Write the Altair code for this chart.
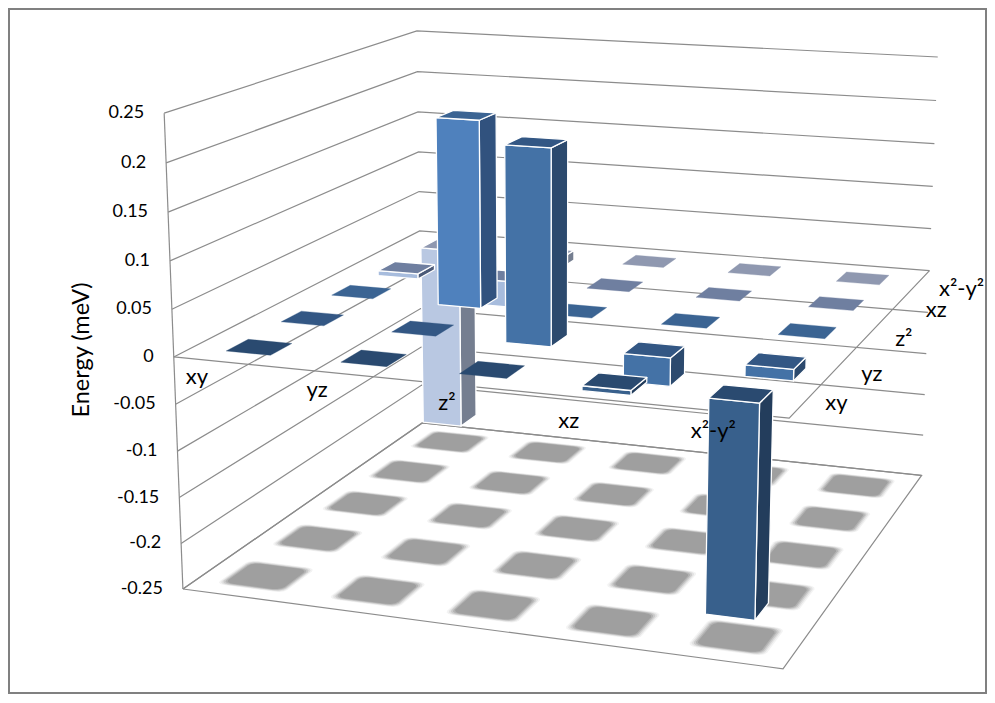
import altair as alt
import numpy as np

# ---- chart values -------------------------------------------------------
categories = ["xy", "yz", "z²", "xz", "x²-y²"]
z_ticks = [0.25, 0.2, 0.15, 0.1, 0.05, 0, -0.05, -0.1, -0.15, -0.2, -0.25]
z_labels = ["0.25", "0.2", "0.15", "0.1", "0.05", "0", "-0.05", "-0.1", "-0.15", "-0.2", "-0.25"]
row_xy = [0, 0, 0, -0.005, -0.22]
row_yz = [0, 0, 0.208, -0.03, -0.012]
row_z2 = [0, 0.208, 0, 0, 0]
row_xz = [-0.006, -0.03, 0, 0, 0]
row_x2y2 = [-0.22, -0.012, 0, 0, 0]
rows = [row_xy, row_yz, row_z2, row_xz, row_x2y2]

# face colours per depth row: front, side, top
front_colors = ["#38608c", "#4472a6", "#4f81bd", "#a7bcdd", "#b9c8e2"]
side_colors = ["#233d5c", "#2c4a6e", "#31527e", "#4b5a78", "#757e90"]
top_colors = ["#2a4a70", "#335784", "#3b6493", "#6f7fa0", "#8f98b0"]

# ---- projection of the 3D box on to the page ------------------------------
box_anchors = [
    ((0, 0, 0.25), (164, 113)), ((0, 0, 0), (174, 357)), ((0, 0, -0.25), (183, 589)),
    ((0, 5, 0.25), (417, 31)), ((0, 5, -0.25), (422, 423)),
    ((5, 5, 0.25), (938, 57)), ((5, 5, 0), (929, 271)), ((5, 5, -0.25), (922, 475)),
    ((5, 0, 0), (789, 418)), ((5, 0, -0.25), (783, 669)),
]
PAGE_MARGIN = 8
W, H = 979, 686


def fit_camera(anchors):
    eqs = []
    for (a, b, c), (x, y) in anchors:
        c = c * 4
        eqs.append([a, b, c, 1, 0, 0, 0, 0, -x * a, -x * b, -x * c, -x])
        eqs.append([0, 0, 0, 0, a, b, c, 1, -y * a, -y * b, -y * c, -y])
    return np.linalg.svd(np.array(eqs, float))[2][-1].reshape(3, 4)


CAM = fit_camera(box_anchors)


def proj(u, v, z):
    p = CAM @ np.array([u, v, z * 4, 1.0])
    return [float(p[0] / p[2] - PAGE_MARGIN), float(p[1] / p[2] - PAGE_MARGIN)]


def feature(points, kind="Polygon", **props):
    if kind == "Polygon":
        coords = [points + [points[0]]]
    else:
        coords = points
    return {"type": "Feature", "geometry": {"type": kind, "coordinates": coords}, "properties": props}


# ---- gridlines -------------------------------------------------------------
lines = []
for z in z_ticks:
    lines.append(feature([proj(0, 0, z), proj(0, 5, z), proj(5, 5, z)], "LineString"))
lines.append(feature([proj(0, 0, 0.25), proj(0, 0, -0.25)], "LineString"))
lines.append(feature([proj(0, 0, -0.25), proj(5, 0, -0.25), proj(5, 5, -0.25), proj(0, 5, -0.25), proj(0, 0, -0.25)], "LineString"))
lines.append(feature([proj(0, 0, 0), proj(5, 0, 0), proj(5, 5, 0)], "LineString"))

# ---- soft floor shadows ----------------------------------------------------
shadow_steps = [(0.305, "#f3f3f3"), (0.292, "#e2e2e2"), (0.279, "#cbcbcb"), (0.266, "#b3b3b3"), (0.253, "#9f9f9f")]


def rounded_cell(cu, cv, half, r):
    pts = []
    corners = [(half - r, half - r, 0), (-(half - r), half - r, 90), (-(half - r), -(half - r), 180), (half - r, -(half - r), 270)]
    for du, dv, start in corners:
        for a in (0, 30, 60, 90):
            t = np.radians(start + a)
            pts.append(proj(cu + du + r * np.cos(t), cv + dv + r * np.sin(t), -0.25))
    return pts


shadows = []
for half, col in shadow_steps:
    for v in range(5):
        for u in range(5):
            shadows.append(feature(rounded_cell(u + 0.5, v + 0.5, half, 0.075), fill=col))

# ---- bars, painted back to front -------------------------------------------
BAR_HALF = 0.195
faces = []
for v in range(4, -1, -1):
    for u in range(5):
        val = rows[v][u]
        u0, u1 = u + 0.5 - BAR_HALF, u + 0.5 + BAR_HALF
        v0, v1 = v + 0.5 - BAR_HALF, v + 0.5 + BAR_HALF
        hi, lo = max(val, 0), min(val, 0)
        edge = "#ffffff" if val != 0 else top_colors[v]
        width = 1.3 if val != 0 else 0.3
        if val != 0:
            faces.append(feature([proj(u1, v0, hi), proj(u1, v1, hi), proj(u1, v1, lo), proj(u1, v0, lo)],
                                 fill=side_colors[v], edge=edge, width=width))
            faces.append(feature([proj(u0, v0, hi), proj(u1, v0, hi), proj(u1, v0, lo), proj(u0, v0, lo)],
                                 fill=front_colors[v], edge=edge, width=width))
        faces.append(feature([proj(u0, v0, hi), proj(u1, v0, hi), proj(u1, v1, hi), proj(u0, v1, hi)],
                             fill=top_colors[v], edge=edge, width=width))

# ---- text ------------------------------------------------------------------
tick_text = []
for z, lab in zip(z_ticks, z_labels):
    x, y = proj(0, 0, z)
    tick_text.append({"x": x - 20, "y": y, "t": lab, "a": "right"})

front_offsets = [(-45, 14), (-41, 16), (-30, 17), (-35, 22), (-32, 20)]
depth_offsets = [(19, 3), (23, 7), (28, 3), (32, 2), (21, 6)]
axis_text = []
for i, c in enumerate(categories):
    x, y = proj(i + 0.5, 0, 0)
    axis_text.append({"x": x + front_offsets[i][0], "y": y + front_offsets[i][1], "t": c})
    x, y = proj(5, i + 0.5, 0)
    axis_text.append({"x": x + depth_offsets[i][0], "y": y + depth_offsets[i][1], "t": c})

FONT = "Lato"
px = alt.X("x:Q", scale=alt.Scale(domain=[0, W], range=[0, W]), axis=None)
py = alt.Y("y:Q", scale=alt.Scale(domain=[0, H], range=[0, H]), axis=None)
flat = dict(type="identity", scale=1, translate=[0, 0])

frame = alt.Chart(alt.Data(values=[feature([[1, 1], [W - 1, 1], [W - 1, H - 1], [1, H - 1]], "Polygon")])).mark_geoshape(
    filled=False, stroke="#808080", strokeWidth=2).project(**flat)
grid = alt.Chart(alt.Data(values=lines)).mark_geoshape(
    filled=False, stroke="#8c8c8c", strokeWidth=1.2).project(**flat)
shadow = alt.Chart(alt.Data(values=shadows)).mark_geoshape(strokeWidth=0).encode(
    fill=alt.Fill("properties.fill:N", scale=None)).project(**flat)
bars = alt.Chart(alt.Data(values=faces)).mark_geoshape(strokeJoin="round").encode(
    fill=alt.Fill("properties.fill:N", scale=None),
    stroke=alt.Stroke("properties.edge:N", scale=None),
    strokeWidth=alt.StrokeWidth("properties.width:Q", scale=None),
).project(**flat)
ticks = alt.Chart(alt.Data(values=tick_text)).mark_text(
    font=FONT, fontSize=18, align="right", baseline="middle", color="#000000").encode(x=px, y=py, text="t:N")
cats = alt.Chart(alt.Data(values=axis_text)).mark_text(
    font=FONT, fontSize=22, align="left", baseline="middle", color="#000000").encode(x=px, y=py, text="t:N")
title = alt.Chart(alt.Data(values=[{"x": 74, "y": 342, "t": "Energy (meV)"}])).mark_text(
    font=FONT, fontSize=23.5, angle=270, align="center", baseline="middle", color="#000000").encode(x=px, y=py, text="t:N")

chart = alt.layer(frame, grid, shadow, bars, ticks, cats, title).properties(
    width=W, height=H, padding=0, autosize=alt.AutoSizeParams(type="none"),
).configure_view(stroke=None)

chart.save("out.html", embed_options={"renderer": "svg", "actions": False})
